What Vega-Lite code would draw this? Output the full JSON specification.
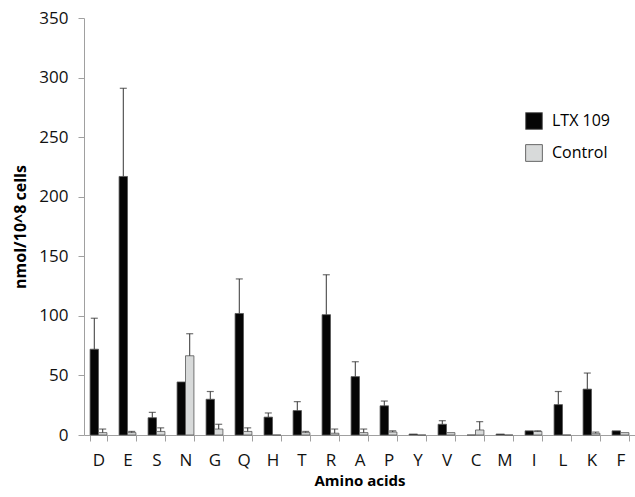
{
  "$schema": "https://vega.github.io/schema/vega-lite/v6.json",
  "autosize": "none",
  "padding": {"left": 84, "top": 18, "right": 0, "bottom": 62},
  "width": 551,
  "height": 417,
  "background": "white",
  "config": {"font": "Open Sans", "view": {"stroke": null}},
  "data": {"values": [
    {"aa": "D", "series": "LTX 109", "value": 72, "upper": 98},
    {"aa": "D", "series": "Control", "value": 2, "upper": 5},
    {"aa": "E", "series": "LTX 109", "value": 217, "upper": 291},
    {"aa": "E", "series": "Control", "value": 2, "upper": 3},
    {"aa": "S", "series": "LTX 109", "value": 14.5, "upper": 19},
    {"aa": "S", "series": "Control", "value": 3, "upper": 6},
    {"aa": "N", "series": "LTX 109", "value": 44.5, "upper": 44.5},
    {"aa": "N", "series": "Control", "value": 66.5, "upper": 85},
    {"aa": "G", "series": "LTX 109", "value": 30, "upper": 36.5},
    {"aa": "G", "series": "Control", "value": 5, "upper": 9},
    {"aa": "Q", "series": "LTX 109", "value": 102, "upper": 131},
    {"aa": "Q", "series": "Control", "value": 3, "upper": 6},
    {"aa": "H", "series": "LTX 109", "value": 15, "upper": 18.5},
    {"aa": "H", "series": "Control", "value": 0, "upper": 0},
    {"aa": "T", "series": "LTX 109", "value": 20.5, "upper": 28},
    {"aa": "T", "series": "Control", "value": 2, "upper": 3},
    {"aa": "R", "series": "LTX 109", "value": 101, "upper": 134.5},
    {"aa": "R", "series": "Control", "value": 1.5, "upper": 5},
    {"aa": "A", "series": "LTX 109", "value": 49, "upper": 61.5},
    {"aa": "A", "series": "Control", "value": 2, "upper": 5},
    {"aa": "P", "series": "LTX 109", "value": 24.5, "upper": 28.5},
    {"aa": "P", "series": "Control", "value": 2.5, "upper": 3.5},
    {"aa": "Y", "series": "LTX 109", "value": 0.8, "upper": 0.8},
    {"aa": "Y", "series": "Control", "value": 0, "upper": 0},
    {"aa": "V", "series": "LTX 109", "value": 9, "upper": 12},
    {"aa": "V", "series": "Control", "value": 2, "upper": 2},
    {"aa": "C", "series": "LTX 109", "value": 0, "upper": 0},
    {"aa": "C", "series": "Control", "value": 4.2, "upper": 11.2},
    {"aa": "M", "series": "LTX 109", "value": 0.8, "upper": 0.8},
    {"aa": "M", "series": "Control", "value": 0, "upper": 0},
    {"aa": "I", "series": "LTX 109", "value": 3.5, "upper": 3.5},
    {"aa": "I", "series": "Control", "value": 3, "upper": 3.5},
    {"aa": "L", "series": "LTX 109", "value": 25.5, "upper": 36.5},
    {"aa": "L", "series": "Control", "value": 0, "upper": 0},
    {"aa": "K", "series": "LTX 109", "value": 38.5, "upper": 52},
    {"aa": "K", "series": "Control", "value": 1.5, "upper": 2.5},
    {"aa": "F", "series": "LTX 109", "value": 3.5, "upper": 3.5},
    {"aa": "F", "series": "Control", "value": 2, "upper": 2}
  ]},
  "encoding": {
    "x": {
      "field": "aa", "type": "nominal", "sort": null,
      "scale": {"paddingInner": 0.42, "paddingOuter": 0.21},
      "axis": {
        "title": "Amino acids", "titleFontSize": 15, "titleFontWeight": "bold", "titleColor": "#000", "titlePadding": 5,
        "labelAngle": 0, "labelFontSize": 17, "labelColor": "#111", "labelPadding": 11,
        "tickBand": "extent", "tickSize": 6, "tickColor": "#a0a0a0", "domainColor": "#a0a0a0"
      }
    },
    "xOffset": {"field": "series", "type": "nominal", "sort": ["LTX 109", "Control"], "scale": {"paddingInner": 0}}
  },
  "layer": [
    {
      "mark": {"type": "bar", "stroke": "#555", "strokeWidth": 0.8},
      "encoding": {
        "y": {
          "field": "value", "type": "quantitative",
          "scale": {"domain": [0, 350], "nice": false},
          "axis": {
            "title": "nmol/10^8 cells", "titleFontSize": 16, "titleFontWeight": "bold", "titleColor": "#000", "titlePadding": 10,
            "values": [0, 50, 100, 150, 200, 250, 300, 350],
            "labelFontSize": 17, "labelColor": "#111", "labelPadding": 10,
            "grid": false, "tickSize": 6, "tickColor": "#a0a0a0", "domainColor": "#a0a0a0"
          }
        },
        "color": {
          "field": "series", "type": "nominal",
          "scale": {"domain": ["LTX 109", "Control"], "range": ["#050505", "#d8dada"]},
          "legend": {
            "title": null, "orient": "none", "legendX": 441, "legendY": 94,
            "symbolType": "square", "symbolSize": 280, "symbolStrokeColor": "#666", "symbolStrokeWidth": 1,
            "labelFontSize": 16, "labelColor": "#000", "rowPadding": 10, "labelOffset": 9
          }
        }
      }
    },
    {
      "transform": [{"filter": "datum.upper > datum.value"}],
      "mark": {"type": "rule", "color": "#333", "strokeWidth": 1},
      "encoding": {
        "y": {"field": "value", "type": "quantitative"},
        "y2": {"field": "upper"}
      }
    },
    {
      "transform": [{"filter": "datum.upper > datum.value"}],
      "mark": {"type": "tick", "color": "#333", "thickness": 1.2, "size": 7, "orient": "horizontal"},
      "encoding": {
        "y": {"field": "upper", "type": "quantitative"}
      }
    }
  ]
}
